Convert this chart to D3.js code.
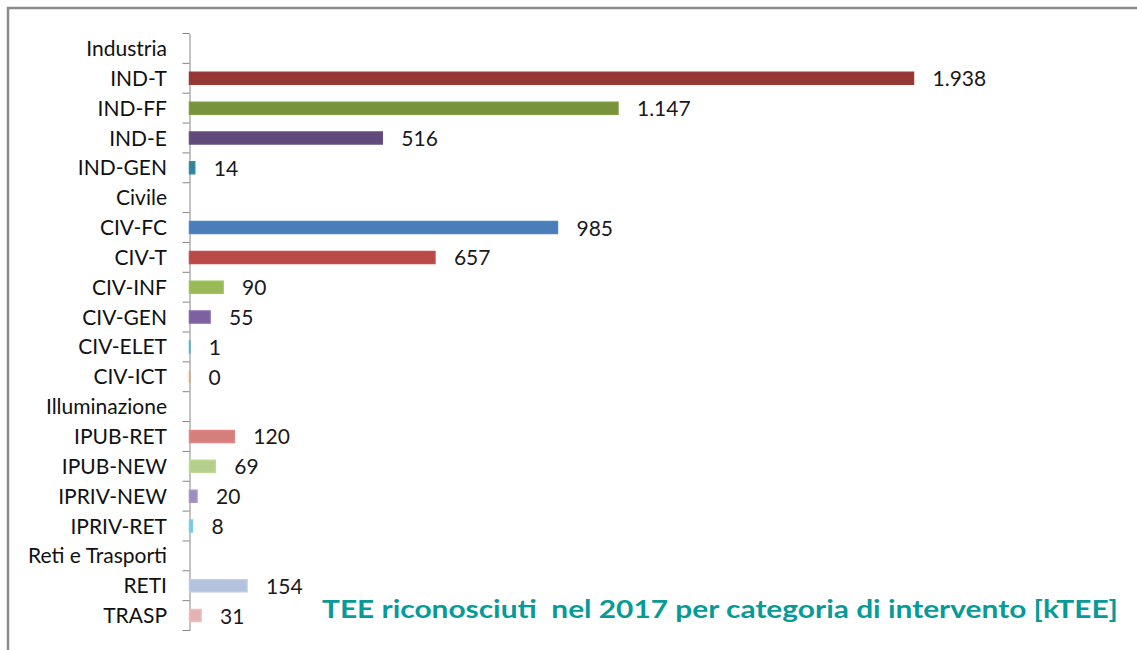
<!DOCTYPE html>
<html><head><meta charset="utf-8">
<script src="https://cdn.jsdelivr.net/npm/d3@7"></script>
<style>
html,body{margin:0;padding:0;background:#fff;}
svg{display:block;}
text{font-family:Lato,"Open Sans",sans-serif;}
</style></head>
<body>
<script>
const categories = ["Industria","IND-T","IND-FF","IND-E","IND-GEN","Civile","CIV-FC","CIV-T","CIV-INF","CIV-GEN","CIV-ELET","CIV-ICT","Illuminazione","IPUB-RET","IPUB-NEW","IPRIV-NEW","IPRIV-RET","Reti e Trasporti","RETI","TRASP"];
const values = [null,1938,1147,516,14,null,985,657,90,55,1,0,null,120,69,20,8,null,154,31];
const colors = [null,"#953735","#77933C","#604A7B","#31859C",null,"#4A7EBB","#B94A48","#98B954","#7D60A0","#46AAC5","#F79646",null,"#D57F7D","#B3CF8B","#A08DBD","#7CC3D8",null,"#B3C2DD","#E3B3B2"];
const title = "TEE riconosciuti  nel 2017 per categoria di intervento [kTEE]";

const W = 1137, H = 650;
const svg = d3.select("body").append("svg").attr("width", W).attr("height", H);

// chart frame
svg.append("rect").attr("x", 8).attr("y", 8).attr("width", W + 10).attr("height", H + 10)
  .attr("fill", "#fff").attr("stroke", "#8a8a8a").attr("stroke-width", 2.5);

const x0 = 189.5;
const x = d3.scaleLinear().domain([0, 2000]).range([x0, x0 + 724 / 1938 * 2000]);
const y = d3.scaleBand().domain(categories).range([33.5, 630.5]).paddingInner(0).paddingOuter(0);

const fmt = d3.formatLocale({decimal: ",", thousands: ".", grouping: [3], currency: ["", "€"]}).format(",d");

// axis
const axis = d3.axisLeft(y).tickSize(0).tickFormat("");
const ag = svg.append("g").attr("transform", `translate(${x0},0)`).call(axis);
ag.select(".domain").attr("stroke", "#868686").attr("stroke-width", 1);
// tick marks at band boundaries
const bounds = categories.map(c => y(c)).concat([y(categories[categories.length-1]) + y.bandwidth()]);
svg.append("g").selectAll("line").data(bounds).join("line")
  .attr("x1", x0 - 7).attr("x2", x0).attr("y1", d => d).attr("y2", d => d)
  .attr("stroke", "#868686").attr("stroke-width", 1);

// category labels
svg.append("g").selectAll("text").data(categories).join("text")
  .attr("x", 167).attr("y", c => y(c) + y.bandwidth() / 2)
  .attr("dy", "0.36em").attr("text-anchor", "end")
  .attr("font-size", 21).attr("fill", "#111").text(c => c);

const data = categories.map((c, i) => ({c, v: values[i], col: colors[i]})).filter(d => d.v !== null);
const bh = 12;
svg.append("g").selectAll("path").data(data).join("path")
  .attr("d", d => {
    const yt = y(d.c) + y.bandwidth() / 2 - bh / 2;
    const w = x(d.v) - x(0);
    return `M${x(0)},${yt}h${w}v${bh}h${-w}Z`;
  })
  .attr("fill", d => d.col).attr("stroke", d => d3.color(d.col).brighter(0.15)).attr("stroke-width", 1.5);

svg.append("g").selectAll("text").data(data).join("text")
  .attr("x", d => x(d.v) + 19).attr("y", d => y(d.c) + y.bandwidth() / 2)
  .attr("dy", "0.38em").attr("font-size", 21).attr("fill", "#1a1a1a")
  .text(d => fmt(d.v));

svg.append("text").attr("x", 322).attr("y", 618)
  .attr("font-size", 25).attr("font-weight", "bold").attr("fill", "#079B98")
  .attr("textLength", 796).attr("lengthAdjust", "spacingAndGlyphs")
  .style("white-space", "pre").text(title);
</script>
</body></html>
